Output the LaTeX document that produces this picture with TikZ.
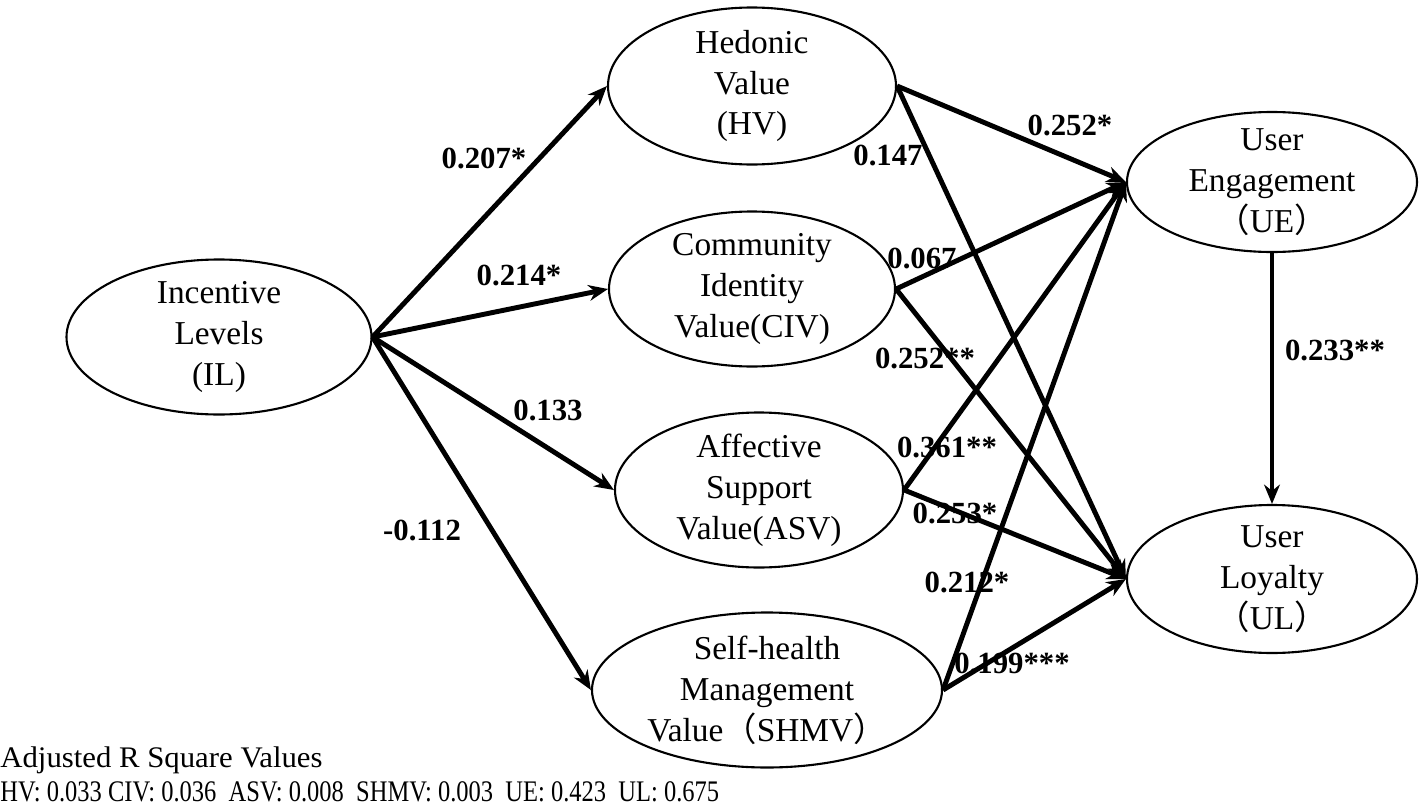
\documentclass[tikz,border=0pt]{standalone}
\usepackage{fontspec}
\setmainfont{Liberation Serif}
\newfontfamily\cjk{Noto Sans CJK SC}
\usetikzlibrary{arrows.meta,shapes.geometric}

\begin{document}
\begin{tikzpicture}[
construct/.style={draw,ellipse,line width=1.2pt,inner sep=-8mm,align=center,font=\fontsize{19}{23.3}\selectfont},
coef/.style={inner sep=0pt,font=\fontsize{17.5}{20}\selectfont\bfseries},
effect/.style={-{Stealth[length=11pt,width=9pt]},line width=2.8pt},
>=Stealth]
\useasboundingbox (0,0) rectangle (28.42,-16.16);
% constructs
\node[construct,minimum width=6.1cm,minimum height=3.1cm] (il) at (4.38,-6.74) {Incentive\\Levels\\(IL)};
\node[construct,minimum width=5.76cm,minimum height=3.14cm] (hv) at (15.04,-1.72) {Hedonic\\Value\\(HV)};
\node[construct,minimum width=5.72cm,minimum height=3.1cm] (civ) at (15.04,-5.78) {Community\\Identity\\Value(CIV)};
\node[construct,minimum width=5.76cm,minimum height=3.1cm] (asv) at (15.18,-9.8) {Affective\\Support\\Value(ASV)};
\node[construct,minimum width=7.0cm,minimum height=3.1cm] (shmv) at (15.34,-13.8) {Self-health\\Management\\Value{\cjk （}SHMV{\cjk ）}};
\node[construct,minimum width=5.8cm,minimum height=2.8cm] (ue) at (25.44,-3.64) {User\\Engagement\\{\cjk （}UE{\cjk ）}};
\node[construct,minimum width=5.8cm,minimum height=2.96cm] (ul) at (25.44,-11.58) {User\\Loyalty\\{\cjk （}UL{\cjk ）}};
% paths
\draw[effect] (il.east) -- (hv.west);
\draw[effect] (il.east) -- (civ.west);
\draw[effect] (il.east) -- (asv.west);
\draw[effect] (il.east) -- (shmv.west);
\draw[effect] (hv.east) -- (ue.west);
\draw[effect] (hv.east) -- (ul.west);
\draw[effect] (civ.east) -- (ue.west);
\draw[effect] (civ.east) -- (ul.west);
\draw[effect] (asv.east) -- (ue.west);
\draw[effect] (asv.east) -- (ul.west);
\draw[effect] (shmv.east) -- (ue.west);
\draw[effect] (shmv.east) -- (ul.west);
\draw[effect] (ue.south) -- (ul.north);
% coefficients
\node[coef] (il-hv) at (9.68,-3.16) {0.207*};
\node[coef] (il-civ) at (10.38,-5.5) {0.214*};
\node[coef] (il-asv) at (10.96,-8.2) {0.133};
\node[coef] (il-shmv) at (8.44,-10.6) {-0.112};
\node[coef] (hv-ue) at (21.4,-2.5) {0.252*};
\node[coef] (hv-ul) at (17.76,-3.1) {0.147};
\node[coef] (civ-ue) at (18.44,-5.16) {0.067};
\node[coef] (civ-ul) at (18.5,-7.16) {0.252**};
\node[coef] (asv-ue) at (18.94,-8.94) {0.361**};
\node[coef] (asv-ul) at (19.1,-10.26) {0.253*};
\node[coef] (shmv-ue) at (19.34,-11.64) {0.212*};
\node[coef] (shmv-ul) at (20.24,-13.26) {0.199***};
\node[coef] (ue-ul) at (26.7,-7.0) {0.233**};
% adjusted R square
\node[anchor=west,inner sep=0pt,font=\fontsize{17}{20}\selectfont] (rsq) at (0,-15.2) {\scalebox{1.03}[1]{Adjusted R Square Values}};
\node[anchor=west,inner sep=0pt,font=\fontsize{17}{20}\selectfont] (rsqvals) at (0,-15.84) {\scalebox{0.82}[1]{HV: 0.033 CIV: 0.036\ \ ASV: 0.008\ \ SHMV: 0.003\ \ UE: 0.423\ \ UL: 0.675}};
\end{tikzpicture}
\end{document}
